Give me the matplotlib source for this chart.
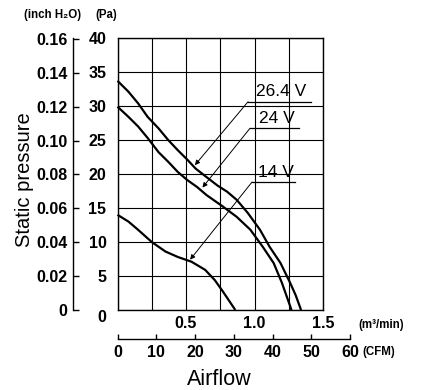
import matplotlib
matplotlib.use("Agg")
import matplotlib.pyplot as plt
from matplotlib import font_manager
from matplotlib.transforms import ScaledTranslation

# ---------------- data ----------------
q_264 = [0.00, 0.08, 0.15, 0.22, 0.30, 0.37, 0.44, 0.51, 0.57, 0.64, 0.73, 0.80, 0.87, 0.95, 1.04, 1.11, 1.19, 1.26, 1.30, 1.34]
p_264 = [33.7, 32.1, 30.4, 28.4, 26.7, 25.0, 23.5, 22.1, 20.8, 19.7, 18.3, 17.4, 16.2, 14.3, 11.8, 9.3, 6.9, 4.0, 2.2, 0.0]

q_24 = [0.00, 0.08, 0.15, 0.22, 0.30, 0.37, 0.44, 0.51, 0.58, 0.65, 0.77, 0.87, 0.97, 1.06, 1.14, 1.20, 1.235, 1.27]
p_24 = [29.9, 28.4, 27.0, 25.3, 23.2, 21.8, 20.3, 19.1, 18.1, 16.9, 15.2, 13.7, 11.8, 9.3, 6.9, 4.0, 2.0, 0.0]

q_14 = [0.00, 0.08, 0.15, 0.25, 0.35, 0.44, 0.54, 0.64, 0.71, 0.77, 0.82, 0.86]
p_14 = [14.0, 13.0, 11.8, 10.0, 8.6, 7.8, 7.1, 5.9, 4.4, 2.7, 1.2, 0.0]

series_labels = ["26.4 V", "24 V", "14 V"]
# label anchor (underline start), underline end, arrow tip (in m3/min, Pa)
underline_start = [(0.953, 30.63), (0.967, 26.72), (0.982, 18.82)]
underline_end_q = [1.412, 1.325, 1.296]
arrow_tip = [(0.565, 21.3), (0.62, 18.0), (0.53, 7.4)]

pa_ticks = [0, 5, 10, 15, 20, 25, 30, 35, 40]
inch_ticks = [0, 0.02, 0.04, 0.06, 0.08, 0.10, 0.12, 0.14, 0.16]
inch_labels = ["0", "0.02", "0.04", "0.06", "0.08", "0.10", "0.12", "0.14", "0.16"]
m3_ticks = [0, 0.25, 0.5, 0.75, 1.0, 1.25, 1.5]
m3_labels = ["", "", "0.5", "", "1.0", "", "1.5"]
cfm_ticks = [0, 10, 20, 30, 40, 50, 60]

PA_PER_INCH = 249.089
CFM_PER_M3MIN = 35.3147

# ---------------- fonts ----------------
def have(name):
    try:
        font_manager.findfont(font_manager.FontProperties(family=name), fallback_to_default=False)
        return True
    except Exception:
        return False

NARROW = "Liberation Sans Narrow" if have("Liberation Sans Narrow") else "Liberation Sans"
SANS = "Liberation Sans"
plt.rcParams['font.family'] = [SANS, 'DejaVu Sans']
TICK_FS = 11.5

W, H = 421, 390
fig = plt.figure(figsize=(W / 100, H / 100), dpi=100)
fig.patch.set_facecolor("white")

def px(x, y):
    return x / W, 1 - y / H

# main axes
L, R, T, B = 117.5, 323.0, 38.0, 310.0
ax = fig.add_axes([L / W, 1 - B / H, (R - L) / W, (B - T) / H])
ax.set_xlim(0, 1.5)
ax.set_ylim(0, 40)
ax.set_yticks(pa_ticks)
ax.set_xticks(m3_ticks)
ax.set_xticklabels(m3_labels)
ax.grid(True, color="black", lw=0.8)
ax.set_axisbelow(True)
for s in ax.spines.values():
    s.set_linewidth(1.0)
    s.set_color("black")
ax.tick_params(axis="both", length=0)
ax.tick_params(axis="y", pad=8)
ax.tick_params(axis="x", pad=4)
for lab in ax.get_yticklabels() + ax.get_xticklabels():
    lab.set_fontfamily([NARROW, 'DejaVu Sans'])
    lab.set_fontweight("bold")
    lab.set_fontsize(TICK_FS)
# shift the Pa "0" label down slightly as in the reference
t0 = ax.yaxis.get_major_ticks()[0]
t0.label1.set_transform(t0.label1.get_transform() + ScaledTranslation(0, -6 / 100, fig.dpi_scale_trans))

# curves
for q, p in [(q_264, p_264), (q_24, p_24), (q_14, p_14)]:
    ax.plot(q, p, color="black", lw=1.6, solid_capstyle="butt", clip_on=False)

# labels with underline and arrow
for lab, (qs, ps), qe, (qt, pt) in zip(series_labels, underline_start, underline_end_q, arrow_tip):
    ax.plot([qs, qe], [ps, ps], color="black", lw=0.9)
    ax.annotate("", xy=(qt, pt), xytext=(qs, ps),
                arrowprops=dict(arrowstyle="-|>", color="black", lw=0.7,
                                mutation_scale=7, shrinkA=0, shrinkB=0))
    ax.text((qs + qe) / 2 + 0.015, ps + 0.35, lab, ha="center", va="bottom",
            fontsize=12.5, fontfamily=[NARROW, 'DejaVu Sans'], color="black")

# inch H2O axis
ax2 = fig.add_axes([73 / W, 1 - B / H, 1e-6, (B - T) / H])
ax2.set_ylim(0, 40 / PA_PER_INCH)
ax2.set_yticks(inch_ticks)
ax2.set_yticklabels(inch_labels)
ax2.set_xticks([])
for k in ["top", "right", "bottom"]:
    ax2.spines[k].set_visible(False)
ax2.spines["left"].set_linewidth(1.0)
ax2.patch.set_visible(False)
ax2.tick_params(axis="y", direction="in", length=4.5, width=1.0, pad=4)
for lab in ax2.get_yticklabels():
    lab.set_fontfamily([NARROW, 'DejaVu Sans'])
    lab.set_fontweight("bold")
    lab.set_fontsize(TICK_FS)

# CFM axis
cfm_w = (60 / CFM_PER_M3MIN) * ((R - L) / 1.5)
ax3 = fig.add_axes([L / W, 1 - 339 / H, cfm_w / W, 1e-6])
ax3.set_xlim(0, 60)
ax3.set_xticks(cfm_ticks)
ax3.set_yticks([])
for k in ["top", "right", "left"]:
    ax3.spines[k].set_visible(False)
ax3.spines["bottom"].set_linewidth(1.0)
ax3.patch.set_visible(False)
ax3.tick_params(axis="x", direction="in", length=3.5, width=1.0, pad=4)
for lab in ax3.get_xticklabels():
    lab.set_fontfamily([NARROW, 'DejaVu Sans'])
    lab.set_fontweight("bold")
    lab.set_fontsize(TICK_FS)

# unit texts
fig.text(*px(24, 15), "(inch H\u2082O)", ha="left", va="center", fontsize=8.3, fontweight="bold")
fig.text(*px(95, 15), "(Pa)", ha="left", va="center", fontsize=8.3, fontweight="bold")
fig.text(*px(358, 325), "(m\u00b3/min)", ha="left", va="center", fontsize=8.3, fontweight="bold")
fig.text(*px(362, 352), "(CFM)", ha="left", va="center", fontsize=8.3, fontweight="bold")

# axis titles
fig.text(*px(25, 180), "Static pressure", rotation=90, ha="center", va="center", fontsize=14.5)
fig.text(*px(219, 385), "Airflow", ha="center", va="baseline", fontsize=15.5)

fig.savefig("out.png", dpi=100, facecolor="white")
